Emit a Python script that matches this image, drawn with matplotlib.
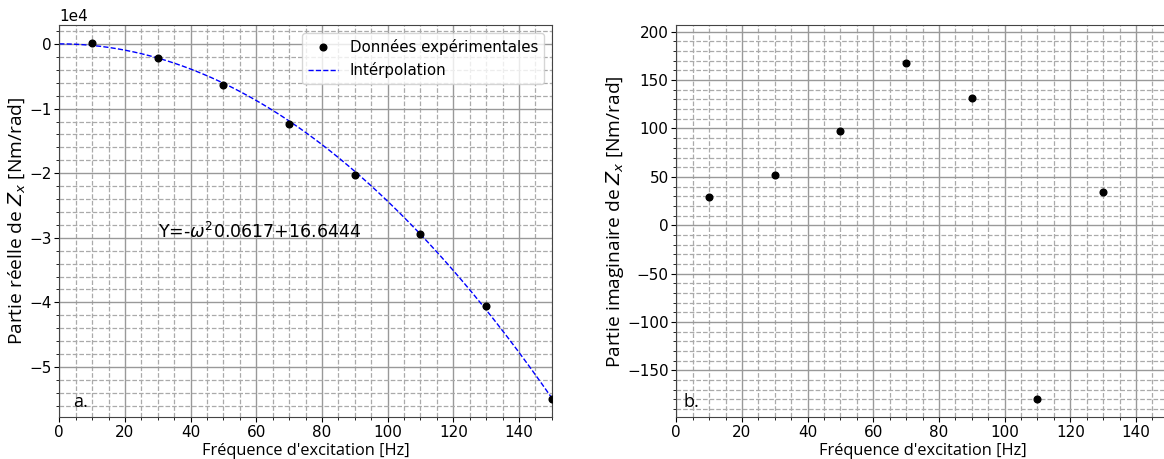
import numpy as np
import matplotlib
matplotlib.use("Agg")
import matplotlib.pyplot as plt
from matplotlib.ticker import MultipleLocator
from matplotlib.lines import Line2D

# ---- data ----
freq = [10, 30, 50, 70, 90, 110, 130, 150]
real_part = [130, -2160, -6390, -12420, -20260, -29380, -40610, -55020]
freq_imag = [10, 30, 50, 70, 90, 110, 130]
imag_part = [29, 52, 97, 168, 132, -180, 34]

# fitted curve coefficients shown on the chart: Y = -w^2 * a + b, w = 2*pi*f
fit_a = 0.0617
fit_b = 16.6444
fit_label = r"Y=-$\omega^2$0.0617+16.6444"

label_font = "Open Sans"

fig = plt.figure(figsize=(11.64, 4.59), dpi=100)
ax1 = fig.add_axes([59.3 / 1164, 1 - 417.3 / 459, 492.5 / 1164, 392.0 / 459])
ax2 = fig.add_axes([676.3 / 1164, 1 - 417.3 / 459, 492.5 / 1164, 392.0 / 459])

def style(ax, ymaj, ymin):
    ax.xaxis.set_major_locator(MultipleLocator(20))
    ax.xaxis.set_minor_locator(MultipleLocator(5))
    ax.yaxis.set_major_locator(MultipleLocator(ymaj))
    ax.yaxis.set_minor_locator(MultipleLocator(ymin))
    ax.grid(which="major", color="#999999", linestyle="-", linewidth=1.0)
    ax.grid(which="minor", color="#aaaaaa", linestyle="--", linewidth=0.9)
    ax.set_axisbelow(True)
    ax.tick_params(which="major", labelsize=11, pad=2)
    for s in ax.spines.values():
        s.set_color("#444444")

# ---- left: real part ----
f_curve = np.linspace(0, 150, 300)
w = 2 * np.pi * f_curve
y_curve = -w ** 2 * fit_a + fit_b
ax1.plot(freq, real_part, "o", color="black", markersize=4.8, zorder=3)
ax1.plot(f_curve, y_curve, "--", color="blue", linewidth=1.0, zorder=2)
ax1.set_xlim(0, 150)
ax1.set_ylim(-57780, 2890)
style(ax1, 10000, 2000)
ax1.ticklabel_format(axis="y", style="sci", scilimits=(4, 4))
ax1.yaxis.get_offset_text().set_fontsize(11)
ax1.set_xlabel("Fréquence d'excitation [Hz]", family=label_font, fontsize=11.8, labelpad=2)
ax1.set_ylabel(r"Partie réelle de $Z_x$ [Nm/rad]", family=label_font, fontsize=13.8)
ax1.yaxis.set_label_coords(-0.0656, 0.5)
ax1.text(30, -30000, fit_label, fontsize=12.5)
ax1.text(0.028, 0.026, "a.", transform=ax1.transAxes, family=label_font, fontsize=13)
handles = [
    Line2D([], [], marker="o", linestyle="", color="black", markersize=4.8),
    Line2D([], [], linestyle="--", color="blue", linewidth=1.0),
]
ax1.legend(handles, ["Données expérimentales", "Intérpolation"], loc="upper right",
           fontsize=10.8)

# ---- right: imaginary part ----
ax2.plot(freq_imag, imag_part, "o", color="black", markersize=4.8, zorder=3)
ax2.set_xlim(0, 150)
ax2.set_ylim(-198.4, 206.6)
style(ax2, 50, 10)
ax2.set_xlabel("Fréquence d'excitation [Hz]", family=label_font, fontsize=11.8, labelpad=2)
ax2.set_ylabel(r"Partie imaginaire de $Z_x$ [Nm/rad]", family=label_font, fontsize=13.8)
ax2.yaxis.set_label_coords(-0.102, 0.5)
ax2.text(0.015, 0.026, "b.", transform=ax2.transAxes, family=label_font, fontsize=13)

fig.savefig("out.png", dpi=100)
